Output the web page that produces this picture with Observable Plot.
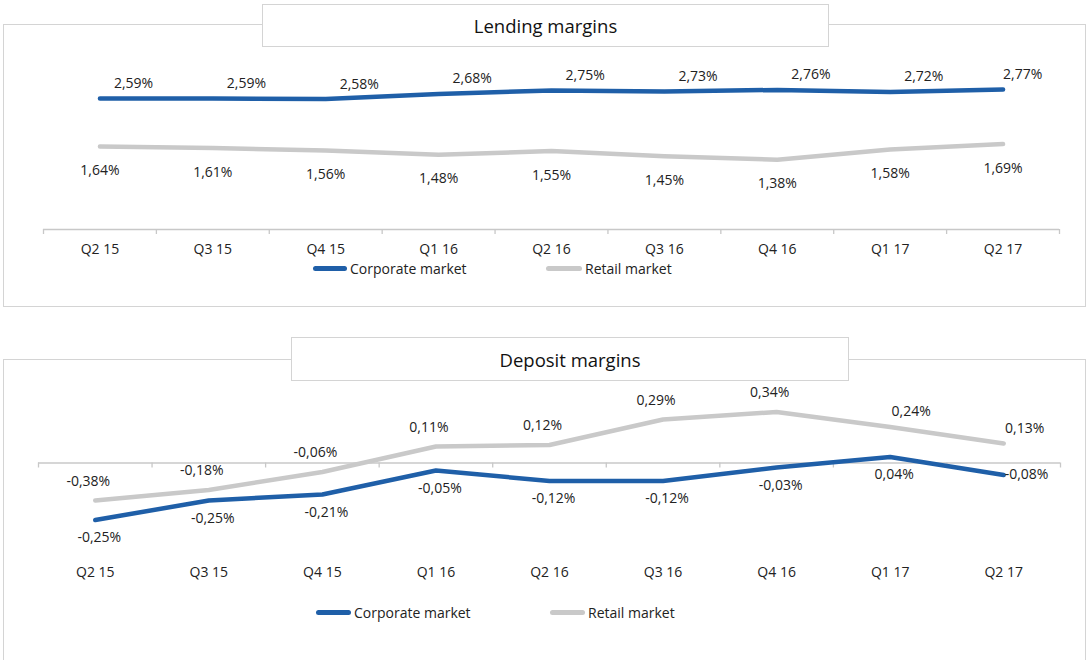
<!DOCTYPE html>
<html>
<head>
<meta charset="utf-8">
<script src="https://cdn.jsdelivr.net/npm/d3@7"></script>
<script src="https://cdn.jsdelivr.net/npm/@observablehq/plot@0.6"></script>
<style>
  html, body { margin: 0; padding: 0; background: #fff; }
  body { width: 1088px; height: 660px; position: relative; overflow: hidden; font-family: "Open Sans", Lato, sans-serif; color: #222; }
  .frame { position: absolute; border: 1.5px solid #d4d4d4; box-sizing: border-box; background: #fff; }
  .title { position: absolute; border: 1.5px solid #d4d4d4; box-sizing: border-box; background: #fff; font-size: 18.5px; display: flex; align-items: center; justify-content: center; color: #111; z-index: 3; }
  .chart { position: absolute; left: 0; z-index: 2; }
  .legend { position: absolute; font-size: 14px; display: flex; align-items: center; z-index: 4; white-space: nowrap; }
  .sw { display: inline-block; height: 5px; border-radius: 3px; margin-right: 3px; }
</style>
</head>
<body>
<div class="frame" style="left:3px; top:24px; width:1083px; height:283px;"></div>
<div class="title" style="left:262px; top:4px; width:567px; height:43px;">Lending margins</div>
<div class="frame" style="left:3px; top:359px; width:1083px; height:310px;"></div>
<div class="title" style="left:291px; top:337px; width:558px; height:44px;">Deposit margins</div>
<div id="lend" class="chart" style="top:0px;"></div>
<div id="dep" class="chart" style="top:320px;"></div>

<div class="legend" style="left:313px; top:259px;"><span class="sw" style="width:34px;background:#1f5fa8"></span>Corporate market</div>
<div class="legend" style="left:546px; top:259px;"><span class="sw" style="width:36px;background:#c9c9c9"></span>Retail market</div>
<div class="legend" style="left:316px; top:603px;"><span class="sw" style="width:35px;background:#1f5fa8"></span>Corporate market</div>
<div class="legend" style="left:550px; top:603px;"><span class="sw" style="width:35px;background:#c9c9c9"></span>Retail market</div>

<script>
// ---- data ----
const quarters = ["Q2 15","Q3 15","Q4 15","Q1 16","Q2 16","Q3 16","Q4 16","Q1 17","Q2 17"];

const lendingCorporate = [2.59, 2.59, 2.58, 2.68, 2.75, 2.73, 2.76, 2.72, 2.77];
const lendingRetail    = [1.64, 1.61, 1.56, 1.48, 1.55, 1.45, 1.38, 1.58, 1.69];

// line positions as drawn in the picture
const depositCorporate = [-0.38, -0.25, -0.21, -0.05, -0.12, -0.12, -0.03, 0.04, -0.08];
const depositRetail    = [-0.25, -0.18, -0.06, 0.11, 0.12, 0.29, 0.34, 0.24, 0.13];
// data labels as printed in the picture
const depositCorporateLabels = ["-0,25%","-0,25%","-0,21%","-0,05%","-0,12%","-0,12%","-0,03%","0,04%","-0,08%"];
const depositRetailLabels    = ["-0,38%","-0,18%","-0,06%","0,11%","0,12%","0,29%","0,34%","0,24%","0,13%"];

const boundaries = d3.range(quarters.length + 1);

const BLUE = "#1f5fa8", GRAY = "#c9c9c9", AXIS = "#c8c8c8";
const fmt = v => v.toFixed(2).replace(".", ",") + "%";
const rows = (vals, labels) => vals.map((v, i) => ({x: i + 0.5, v, q: quarters[i], label: labels ? labels[i] : fmt(v)}));

const lc = rows(lendingCorporate), lr = rows(lendingRetail);
const dc = rows(depositCorporate, depositCorporateLabels), dr = rows(depositRetail, depositRetailLabels);
const qs = quarters.map((q, i) => ({x: i + 0.5, q}));
const last = quarters.length - 1;

const common = {fontFamily: "'Open Sans', Lato, sans-serif", fontSize: 14, fill: "#222"};

// ---- Lending margins ----
const lend = Plot.plot({
  width: 1088, height: 310,
  marginLeft: 43, marginRight: 29, marginTop: 52, marginBottom: 81,
  style: {background: "transparent", fontFamily: "'Open Sans', Lato, sans-serif", fontSize: "14px", color: "#222"},
  x: {domain: [0, quarters.length], axis: null},
  y: {domain: [0, 3.5], axis: null},
  marks: [
    Plot.axisX({ticks: boundaries, tickSize: 5, tickFormat: () => "", label: null, stroke: AXIS, strokeWidth: 1.3}),
    Plot.ruleY([0], {stroke: AXIS, strokeWidth: 1.5}),
    Plot.lineY(lr, {x: "x", y: "v", stroke: GRAY, strokeWidth: 4.5, strokeLinecap: "round"}),
    Plot.lineY(lc, {x: "x", y: "v", stroke: BLUE, strokeWidth: 4.5, strokeLinecap: "round"}),
    Plot.text(lc, {filter: (d, i) => i < last, x: "x", y: "v", text: "label", textAnchor: "start", dx: 14, dy: -15, ...common}),
    Plot.text(lc, {filter: (d, i) => i === last, x: "x", y: "v", text: "label", textAnchor: "start", dx: 0, dy: -15, ...common}),
    Plot.text(lr, {x: "x", y: "v", text: "label", dy: 24, ...common}),
    Plot.text(qs, {x: "x", text: "q", frameAnchor: "bottom", dy: 24, ...common})
  ]
});
document.getElementById("lend").appendChild(lend);

// ---- Deposit margins ----
const dep = Plot.plot({
  width: 1088, height: 340,
  marginLeft: 38, marginRight: 28, marginTop: 67.5, marginBottom: 197.5,
  style: {background: "transparent", fontFamily: "'Open Sans', Lato, sans-serif", fontSize: "14px", color: "#222"},
  x: {domain: [0, quarters.length], axis: null},
  y: {domain: [0, 0.5], axis: null},
  marks: [
    Plot.axisX({ticks: boundaries, tickSize: 5, tickFormat: () => "", label: null, stroke: AXIS, strokeWidth: 1.3}),
    Plot.ruleY([0], {stroke: AXIS, strokeWidth: 1.5}),
    Plot.lineY(dr, {x: "x", y: "v", stroke: GRAY, strokeWidth: 4.5, strokeLinecap: "round"}),
    Plot.lineY(dc, {x: "x", y: "v", stroke: BLUE, strokeWidth: 4.5, strokeLinecap: "round"}),
    Plot.text(dr, {filter: (d, i) => i < 7, x: "x", y: "v", text: "label", dx: -7, dy: -19, ...common}),
    Plot.text(dr, {filter: (d, i) => i >= 7, x: "x", y: "v", text: "label", dx: 21, dy: -15, ...common}),
    Plot.text(dc, {filter: (d, i) => i < last, x: "x", y: "v", text: "label", dx: 4, dy: 18, ...common}),
    Plot.text(dc, {filter: (d, i) => i === last, x: "x", y: "v", text: "label", textAnchor: "start", dx: 1, dy: 0, ...common}),
    Plot.text(qs, {x: "x", text: "q", frameAnchor: "bottom", dy: 113.5, ...common})
  ]
});
document.getElementById("dep").appendChild(dep);
</script>
</body>
</html>
